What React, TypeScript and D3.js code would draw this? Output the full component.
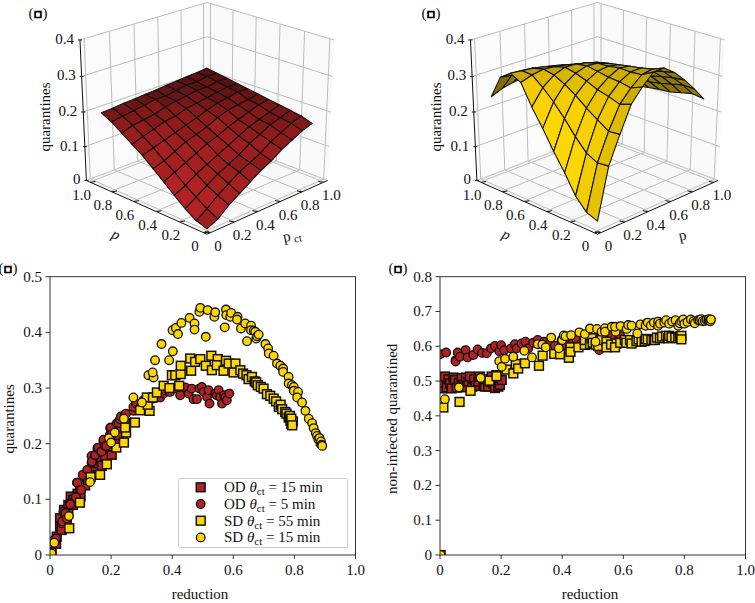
import React from "react";
import * as d3 from "d3";

const W = 755, H = 603;
const gridTicks = [0, 0.2, 0.4, 0.6, 0.8, 1.0];
const zTicks = [0, 0.1, 0.2, 0.3, 0.4];
const xTicks2D = [0, 0.2, 0.4, 0.6, 0.8, 1.0];
const yTicksC = [0, 0.1, 0.2, 0.3, 0.4, 0.5];
const yTicksD = [0, 0.1, 0.2, 0.3, 0.4, 0.5, 0.6, 0.7, 0.8];
const gridVals = [0, 0.09, 0.18, 0.27, 0.36, 0.45, 0.54, 0.63, 0.72, 0.81, 0.9];

const RED = "#b22222";
const GOLD = "#ffd700";

// rows: p, columns: p_ct
const surfaceA = [
  [0.005, 0.02, 0.045, 0.065, 0.085, 0.105, 0.12, 0.14, 0.155, 0.17, 0.18],
  [0.015, 0.035, 0.06, 0.08, 0.1, 0.115, 0.13, 0.15, 0.165, 0.18, 0.19],
  [0.035, 0.055, 0.075, 0.095, 0.11, 0.125, 0.145, 0.16, 0.175, 0.185, 0.195],
  [0.06, 0.075, 0.095, 0.11, 0.125, 0.14, 0.155, 0.17, 0.18, 0.19, 0.2],
  [0.085, 0.1, 0.115, 0.13, 0.145, 0.155, 0.17, 0.18, 0.19, 0.2, 0.205],
  [0.11, 0.12, 0.135, 0.15, 0.16, 0.17, 0.185, 0.195, 0.2, 0.205, 0.21],
  [0.135, 0.145, 0.155, 0.165, 0.175, 0.185, 0.195, 0.205, 0.21, 0.215, 0.215],
  [0.155, 0.165, 0.175, 0.185, 0.19, 0.2, 0.205, 0.21, 0.215, 0.22, 0.22],
  [0.175, 0.185, 0.19, 0.195, 0.205, 0.21, 0.215, 0.22, 0.22, 0.225, 0.225],
  [0.195, 0.2, 0.205, 0.21, 0.215, 0.215, 0.22, 0.225, 0.225, 0.23, 0.23],
  [0.21, 0.212, 0.215, 0.217, 0.22, 0.222, 0.225, 0.227, 0.23, 0.232, 0.235],
];
const surfaceB = [
  [0.027, 0.166, 0.24, 0.309, 0.344, 0.373, 0.374, 0.352, 0.322, 0.287, 0.249],
  [0.038, 0.163, 0.237, 0.298, 0.331, 0.356, 0.361, 0.345, 0.318, 0.288, 0.253],
  [0.071, 0.178, 0.257, 0.308, 0.337, 0.353, 0.354, 0.337, 0.311, 0.28, 0.245],
  [0.123, 0.211, 0.277, 0.316, 0.339, 0.354, 0.349, 0.329, 0.303, 0.272, 0.237],
  [0.17, 0.249, 0.301, 0.329, 0.345, 0.349, 0.343, 0.324, 0.297, 0.266, 0.234],
  [0.222, 0.283, 0.32, 0.34, 0.35, 0.347, 0.337, 0.318, 0.292, 0.261, 0.229],
  [0.269, 0.311, 0.335, 0.346, 0.345, 0.339, 0.33, 0.312, 0.287, 0.256, 0.223],
  [0.325, 0.335, 0.341, 0.338, 0.333, 0.325, 0.319, 0.303, 0.278, 0.248, 0.215],
  [0.34, 0.337, 0.334, 0.328, 0.321, 0.312, 0.305, 0.289, 0.268, 0.238, 0.205],
  [0.319, 0.315, 0.312, 0.306, 0.299, 0.292, 0.286, 0.271, 0.252, 0.223, 0.191],
  [0.255, 0.268, 0.275, 0.28, 0.28, 0.28, 0.275, 0.265, 0.25, 0.225, 0.195],
];

type Pt = [number, number];

const cOD15: Pt[] = [[0.005,0.006],[0.02,0.02],[0.022,0.033],[0.033,0.051],[0.033,0.066],[0.038,0.045],[0.046,0.081],[0.05,0.07],[0.055,0.06],[0.06,0.075],[0.06,0.09],[0.068,0.105],[0.075,0.09],[0.077,0.099],[0.09,0.11],[0.098,0.123],[0.1,0.105],[0.11,0.13],[0.115,0.125],[0.12,0.141],[0.125,0.135],[0.14,0.15],[0.142,0.159],[0.15,0.175],[0.153,0.165],[0.165,0.18],[0.169,0.171],[0.17,0.16],[0.18,0.177],[0.19,0.19],[0.202,0.18],[0.205,0.195],[0.21,0.2],[0.213,0.207],[0.219,0.225],[0.225,0.215],[0.235,0.23],[0.246,0.237]];
const cOD5: Pt[] = [[0.011,0.026],[0.02,0.03],[0.038,0.057],[0.04,0.06],[0.044,0.078],[0.049,0.075],[0.051,0.075],[0.055,0.066],[0.065,0.093],[0.066,0.091],[0.084,0.105],[0.085,0.104],[0.088,0.13],[0.09,0.13],[0.098,0.117],[0.102,0.117],[0.107,0.144],[0.122,0.153],[0.136,0.166],[0.136,0.178],[0.137,0.168],[0.147,0.179],[0.148,0.18],[0.155,0.192],[0.158,0.193],[0.167,0.186],[0.169,0.186],[0.175,0.204],[0.175,0.207],[0.18,0.196],[0.184,0.196],[0.196,0.216],[0.197,0.228],[0.199,0.229],[0.202,0.216],[0.219,0.237],[0.224,0.237],[0.229,0.244],[0.232,0.249],[0.245,0.252],[0.249,0.254],[0.273,0.259],[0.273,0.266],[0.282,0.272],[0.295,0.265],[0.306,0.278],[0.339,0.281],[0.361,0.283],[0.372,0.29],[0.377,0.296],[0.393,0.293],[0.41,0.3],[0.426,0.287],[0.426,0.302],[0.443,0.301],[0.454,0.29],[0.464,0.299],[0.47,0.28],[0.481,0.28],[0.489,0.299],[0.497,0.302],[0.503,0.293],[0.514,0.284],[0.519,0.296],[0.522,0.272],[0.541,0.29],[0.546,0.287],[0.552,0.296],[0.557,0.284],[0.563,0.272],[0.57,0.287],[0.574,0.283],[0.579,0.278],[0.587,0.29]];
const cSD55: Pt[] = [[0.004,0.004],[0.063,0.048],[0.098,0.094],[0.133,0.14],[0.164,0.144],[0.186,0.163],[0.217,0.193],[0.242,0.202],[0.249,0.22],[0.246,0.229],[0.278,0.238],[0.295,0.26],[0.326,0.259],[0.32,0.27],[0.317,0.283],[0.337,0.283],[0.35,0.292],[0.372,0.304],[0.391,0.3],[0.423,0.304],[0.399,0.323],[0.41,0.323],[0.428,0.325],[0.428,0.34],[0.459,0.353],[0.462,0.331],[0.475,0.347],[0.492,0.352],[0.51,0.34],[0.528,0.358],[0.53,0.332],[0.549,0.352],[0.546,0.341],[0.568,0.331],[0.576,0.349],[0.585,0.344],[0.601,0.328],[0.607,0.344],[0.623,0.332],[0.632,0.326],[0.643,0.323],[0.65,0.316],[0.661,0.32],[0.67,0.312],[0.675,0.31],[0.68,0.305],[0.69,0.302],[0.699,0.299],[0.71,0.289],[0.721,0.286],[0.732,0.281],[0.74,0.276],[0.749,0.266],[0.755,0.27],[0.76,0.262],[0.77,0.257],[0.774,0.254],[0.781,0.247],[0.785,0.25],[0.787,0.241],[0.79,0.235],[0.792,0.237],[0.795,0.24],[0.79,0.245],[0.793,0.233]];
const cSD15: Pt[] = [[0.005,0.003],[0.014,0.022],[0.062,0.07],[0.131,0.131],[0.193,0.21],[0.2,0.202],[0.212,0.22],[0.242,0.245],[0.273,0.283],[0.301,0.274],[0.322,0.323],[0.339,0.319],[0.336,0.328],[0.344,0.35],[0.365,0.379],[0.39,0.35],[0.402,0.366],[0.401,0.404],[0.412,0.408],[0.419,0.397],[0.43,0.417],[0.457,0.426],[0.473,0.416],[0.473,0.405],[0.51,0.392],[0.489,0.437],[0.492,0.444],[0.516,0.44],[0.538,0.428],[0.541,0.436],[0.572,0.409],[0.576,0.441],[0.577,0.431],[0.59,0.428],[0.593,0.435],[0.614,0.428],[0.612,0.423],[0.625,0.407],[0.639,0.416],[0.645,0.384],[0.658,0.412],[0.658,0.404],[0.667,0.403],[0.672,0.401],[0.675,0.389],[0.678,0.393],[0.683,0.396],[0.705,0.379],[0.714,0.371],[0.716,0.362],[0.732,0.358],[0.743,0.344],[0.754,0.34],[0.763,0.335],[0.763,0.329],[0.781,0.32],[0.781,0.308],[0.792,0.305],[0.798,0.302],[0.798,0.295],[0.812,0.293],[0.809,0.283],[0.825,0.274],[0.836,0.259],[0.847,0.245],[0.858,0.237],[0.863,0.228],[0.87,0.219],[0.874,0.214],[0.878,0.208],[0.882,0.21],[0.885,0.2],[0.887,0.204],[0.889,0.198],[0.891,0.196]];

const dOD15: Pt[] = [[0.002,0.49],[0.005,0.505],[0.008,0.479],[0.012,0.495],[0.016,0.513],[0.022,0.482],[0.028,0.505],[0.033,0.493],[0.038,0.479],[0.044,0.51],[0.049,0.503],[0.055,0.481],[0.062,0.495],[0.071,0.508],[0.076,0.489],[0.085,0.51],[0.088,0.482],[0.093,0.498],[0.098,0.513],[0.106,0.484],[0.112,0.505],[0.117,0.486],[0.125,0.498],[0.131,0.513],[0.142,0.491],[0.147,0.484],[0.15,0.505],[0.158,0.484],[0.165,0.498],[0.169,0.513],[0.175,0.493],[0.18,0.48],[0.185,0.517],[0.191,0.484],[0.196,0.489],[0.202,0.503]];
const dOD5: Pt[] = [[0.0,0.577],[0.02,0.582],[0.051,0.56],[0.051,0.556],[0.058,0.582],[0.065,0.57],[0.084,0.589],[0.09,0.568],[0.109,0.575],[0.123,0.591],[0.138,0.581],[0.153,0.58],[0.167,0.594],[0.18,0.601],[0.194,0.586],[0.2,0.603],[0.21,0.589],[0.232,0.594],[0.245,0.606],[0.251,0.594],[0.267,0.608],[0.28,0.613],[0.289,0.594],[0.305,0.61],[0.32,0.618],[0.341,0.613],[0.36,0.608],[0.376,0.601],[0.398,0.601],[0.398,0.618],[0.43,0.62],[0.431,0.606],[0.447,0.618],[0.463,0.608],[0.47,0.63],[0.49,0.62],[0.496,0.623],[0.51,0.625],[0.52,0.63],[0.521,0.589],[0.534,0.632],[0.55,0.625],[0.562,0.632],[0.59,0.63]];
const dSD55: Pt[] = [[0.002,0.0],[0.011,0.424],[0.064,0.44],[0.1,0.472],[0.162,0.501],[0.185,0.514],[0.218,0.533],[0.24,0.522],[0.248,0.549],[0.256,0.536],[0.278,0.551],[0.324,0.544],[0.336,0.573],[0.374,0.578],[0.393,0.577],[0.422,0.567],[0.427,0.597],[0.427,0.584],[0.453,0.597],[0.474,0.604],[0.474,0.618],[0.491,0.606],[0.496,0.623],[0.5,0.61],[0.51,0.605],[0.518,0.601],[0.529,0.618],[0.545,0.613],[0.545,0.597],[0.56,0.605],[0.578,0.608],[0.573,0.597],[0.59,0.61],[0.605,0.618],[0.61,0.61],[0.622,0.618],[0.627,0.608],[0.643,0.615],[0.65,0.62],[0.66,0.613],[0.67,0.615],[0.673,0.621],[0.68,0.62],[0.692,0.618],[0.7,0.62],[0.703,0.618],[0.71,0.625],[0.72,0.623],[0.727,0.628],[0.74,0.63],[0.747,0.623],[0.75,0.63],[0.758,0.626],[0.77,0.625],[0.78,0.623],[0.785,0.628],[0.787,0.625],[0.79,0.63],[0.79,0.62]];
const dSD15: Pt[] = [[0.002,0.0],[0.016,0.448],[0.062,0.482],[0.133,0.509],[0.194,0.557],[0.202,0.541],[0.213,0.564],[0.24,0.57],[0.276,0.587],[0.301,0.568],[0.32,0.606],[0.335,0.605],[0.346,0.597],[0.364,0.625],[0.389,0.594],[0.4,0.618],[0.405,0.631],[0.411,0.629],[0.429,0.632],[0.456,0.64],[0.474,0.635],[0.491,0.651],[0.509,0.613],[0.514,0.65],[0.529,0.642],[0.54,0.652],[0.54,0.642],[0.562,0.656],[0.575,0.642],[0.573,0.656],[0.591,0.658],[0.611,0.65],[0.616,0.661],[0.627,0.659],[0.646,0.637],[0.656,0.663],[0.676,0.666],[0.673,0.659],[0.68,0.668],[0.69,0.66],[0.7,0.668],[0.714,0.671],[0.714,0.659],[0.72,0.665],[0.734,0.668],[0.74,0.675],[0.75,0.665],[0.76,0.671],[0.771,0.675],[0.78,0.659],[0.785,0.666],[0.79,0.672],[0.796,0.677],[0.8,0.665],[0.81,0.67],[0.821,0.677],[0.83,0.672],[0.834,0.666],[0.845,0.675],[0.85,0.675],[0.855,0.678],[0.86,0.672],[0.867,0.673],[0.872,0.676],[0.878,0.674],[0.88,0.678],[0.883,0.675],[0.885,0.672],[0.887,0.677]];

const legendLabels = [
  { src: "OD", val: "15" },
  { src: "OD", val: "5" },
  { src: "SD", val: "55" },
  { src: "SD", val: "15" },
];

const FONT = "'Liberation Serif', 'Times New Roman', serif";
const INK = "#111";
const BOX = "#333";

// ---- 3D camera ----
const ELEV = (24.5 * Math.PI) / 180;
const DIST = 8;
const SX = 1400, SY = 1235;
const dataU = d3.scaleLinear().domain([0, 1]).range([0.03, 0.97]);
const dataW = d3.scaleLinear().domain([0, 0.4]).range([0, 1]);

function camera(cx: number, cy: number) {
  const c = Math.cos(ELEV), s = Math.sin(ELEV), r = Math.SQRT1_2;
  return (u: number, v: number, w: number) => {
    const a = u - 0.5, b = v - 0.5, e = w - 0.5;
    const sx = (a - b) * r;
    const sy = (a + b) * r * s + e * c;
    const depth = DIST + (a + b) * r * c - e * s;
    return { x: cx + (SX * sx) / depth, y: cy - (SY * sy) / depth, depth };
  };
}

function Tag({ x, y }: any) {
  return (
    <text x={x} y={y} textAnchor="middle" fontSize={15}>
      (<tspan fontFamily="'DejaVu Sans'" fontWeight="bold" fontSize={13} stroke="#000" strokeWidth={0.9}>▫</tspan>)
    </text>
  );
}

function Surface3D({ cx, cy, z, color, pLabel, ctSub, tagX }: any) {
  const cam = camera(cx, cy);
  const P = (pct: number, p: number, q: number) => cam(dataU(pct), dataU(p), dataW(q));
  const L = (a: any, b: any) => `M${a.x},${a.y}L${b.x},${b.y}`;
  const n = gridVals.length;
  const faces: any[] = [];
  for (let i = 0; i < n - 1; i++) {
    for (let j = 0; j < n - 1; j++) {
      const vs = [
        [gridVals[j], gridVals[i], z[i][j]],
        [gridVals[j + 1], gridVals[i], z[i][j + 1]],
        [gridVals[j + 1], gridVals[i + 1], z[i + 1][j + 1]],
        [gridVals[j], gridVals[i + 1], z[i + 1][j]],
      ];
      const d1 = [vs[2][0] - vs[0][0], vs[2][1] - vs[0][1], vs[2][2] - vs[0][2]];
      const d2 = [vs[3][0] - vs[1][0], vs[3][1] - vs[1][1], vs[3][2] - vs[1][2]];
      const nn = [
        d1[1] * d2[2] - d1[2] * d2[1],
        d1[2] * d2[0] - d1[0] * d2[2],
        d1[0] * d2[1] - d1[1] * d2[0],
      ];
      const len = Math.hypot(nn[0], nn[1], nn[2]) || 1;
      const sgn = nn[2] < 0 ? -1 : 1;
      const shade = (sgn * (-nn[0] - nn[1] + nn[2])) / (len * Math.sqrt(3));
      const pts = vs.map((q) => P(q[0], q[1], q[2]));
      faces.push({ pts, shade, depth: d3.mean(pts, (q: any) => q.depth) });
    }
  }
  const sh = d3.scaleLinear().domain(d3.extent(faces, (f) => f.shade) as [number, number]).range([0.5, 1]);
  const base = d3.rgb(color);
  faces.forEach((f) => {
    const k = sh(f.shade);
    f.fill = d3.rgb(base.r * k, base.g * k, base.b * k).formatRgb();
  });
  faces.sort((a, b) => b.depth - a.depth);
  const linePath = d3.line<any>().x((d) => d.x).y((d) => d.y);
  const poly = (arr: any[]) => linePath(arr) + "Z";
  const grid = "#bdbdbd";
  const zz = (q: number) => dataW(q);
  return (
    <g fontFamily={FONT} fontSize={15} fill={INK}>
      <path d={poly([cam(0, 0, 0), cam(1, 0, 0), cam(1, 1, 0), cam(0, 1, 0)])} fill="#f8f8f8" />
      <path d={poly([cam(0, 1, 0), cam(1, 1, 0), cam(1, 1, 1), cam(0, 1, 1)])} fill="#fbfbfb" />
      <path d={poly([cam(1, 0, 0), cam(1, 1, 0), cam(1, 1, 1), cam(1, 0, 1)])} fill="#f9f9f9" />
      {gridTicks.map((t) => (
        <g key={t} stroke={grid} strokeWidth={1} fill="none">
          <path d={L(cam(dataU(t), 0, 0), cam(dataU(t), 1, 0))} />
          <path d={L(cam(0, dataU(t), 0), cam(1, dataU(t), 0))} />
          <path d={L(cam(dataU(t), 1, 0), cam(dataU(t), 1, 1))} />
          <path d={L(cam(1, dataU(t), 0), cam(1, dataU(t), 1))} />
        </g>
      ))}
      {zTicks.map((t) => (
        <g key={t} stroke={grid} strokeWidth={1} fill="none">
          <path d={L(cam(0, 1, zz(t)), cam(1, 1, zz(t)))} />
          <path d={L(cam(1, 0, zz(t)), cam(1, 1, zz(t)))} />
        </g>
      ))}
      <path d={L(cam(0, 1, 0), cam(0, 1, 1))} stroke={INK} strokeWidth={1} />
      <path d={L(cam(0, 0, 0), cam(0, 1, 0))} stroke={INK} strokeWidth={1} />
      <path d={L(cam(0, 0, 0), cam(1, 0, 0))} stroke={INK} strokeWidth={1} />
      {faces.map((f, i) => (
        <path key={i} d={poly(f.pts)} fill={f.fill} stroke="#111" strokeWidth={1.1} strokeLinejoin="round" />
      ))}
      {zTicks.map((t) => {
        const a = cam(0, 1, zz(t));
        return (
          <g key={t}>
            <path d={`M${a.x - 2},${a.y}L${a.x + 2},${a.y}`} stroke={INK} strokeWidth={1} />
            <text x={a.x - 6} y={a.y + 4} textAnchor="end" stroke="none">{t === 0 ? "0" : t.toFixed(1)}</text>
          </g>
        );
      })}
      {gridTicks.map((t) => {
        const a = P(0, t, 0), b = P(t, 0, 0);
        const la = t === 0 ? "0" : t.toFixed(1);
        return (
          <g key={t}>
            <path d={`M${a.x + 2},${a.y + 1}L${a.x - 3},${a.y + 2}`} stroke={INK} strokeWidth={1} />
            <path d={`M${b.x - 2},${b.y + 1}L${b.x + 3},${b.y + 2}`} stroke={INK} strokeWidth={1} />
            <text x={a.x - 12} y={a.y + 20} textAnchor="middle" stroke="none">{la}</text>
            <text x={b.x + 11} y={b.y + 20} textAnchor="middle" stroke="none">{la}</text>
          </g>
        );
      })}
      <text transform={`translate(${cx - 157},${cy + 5}) rotate(-90)`} textAnchor="middle">quarantines</text>
      <text transform={`translate(${cx - 93},${cy + 127}) rotate(23)`} textAnchor="middle" fontStyle="italic">p</text>
      <text transform={`translate(${cx + 86},${cy + 128}) rotate(-12)`} textAnchor="middle">
        {pLabel}
        {ctSub ? <tspan fontSize={11} dy={3}> ct</tspan> : null}
      </text>
      <Tag x={tagX} y={18} />
    </g>
  );
}

function Scatter({ x0, yMax, yTicks, series, ylabel, ylx, legend, tagX, labelRight }: any) {
  const x = d3.scaleLinear().domain([0, 1]).range([x0, x0 + 305.5]);
  const y = d3.scaleLinear().domain([0, yMax]).range([555, 276.7]);
  const id = `clip${x0}`;
  const r = 4.3, hs = 4.4;
  return (
    <g fontFamily={FONT} fontSize={15} fill={INK}>
      <clipPath id={id}>
        <rect x={x(0)} y={y(yMax)} width={x(1) - x(0)} height={y(0) - y(yMax)} />
      </clipPath>
      <g clipPath={`url(#${id})`}>
        {series.map((s: any, k: number) =>
          s.pts.map((d: Pt, i: number) =>
            s.square ? (
              <rect key={`${k}-${i}`} x={x(d[0]) - hs} y={y(d[1]) - hs} width={2 * hs} height={2 * hs} fill={s.color} stroke="#111" strokeWidth={1.5} />
            ) : (
              <circle key={`${k}-${i}`} cx={x(d[0])} cy={y(d[1])} r={r} fill={s.color} stroke="#111" strokeWidth={1.3} />
            )
          )
        )}
      </g>
      <rect x={x(0)} y={y(yMax)} width={x(1) - x(0)} height={y(0) - y(yMax)} fill="none" stroke={BOX} strokeWidth={1} />
      {xTicks2D.map((t) => (
        <g key={t}>
          <path d={`M${x(t)},555L${x(t)},559`} stroke={BOX} />
          <text x={x(t)} y={575} textAnchor="middle">{t === 0 ? "0" : t.toFixed(1)}</text>
        </g>
      ))}
      {yTicks.map((t: number) => (
        <g key={t}>
          <path d={`M${x0},${y(t)}L${x0 - 4.5},${y(t)}`} stroke={BOX} />
          <text x={labelRight} y={y(t) + 5} textAnchor="end">{t === 0 ? "0" : t.toFixed(1)}</text>
        </g>
      ))}
      <text x={x0 + 150} y={599} textAnchor="middle">reduction</text>
      <text transform={`translate(${ylx},${y(yMax / 2) + 3}) rotate(-90)`} textAnchor="middle">{ylabel}</text>
      <Tag x={tagX} y={273} />
      {legend ? (
        <g>
          <rect x={178.5} y={478.5} width={169} height={69} rx={2} fill="#fff" fillOpacity={0.85} stroke="#ccc" />
          {legendLabels.map((l, i) => {
            const yy = 487.3 + i * 16.7;
            const s = series[i];
            return (
              <g key={i}>
                {s.square ? (
                  <rect x={200.7 - hs} y={yy - hs} width={2 * hs} height={2 * hs} fill={s.color} stroke="#111" strokeWidth={1.5} />
                ) : (
                  <circle cx={200.7} cy={yy} r={r} fill={s.color} stroke="#111" strokeWidth={1.3} />
                )}
                <text x={224} y={yy + 5}>
                  {l.src} <tspan fontStyle="italic">θ</tspan>
                  <tspan fontSize={11} dy={3}>ct</tspan>
                  <tspan dy={-3}> = {l.val} min</tspan>
                </text>
              </g>
            );
          })}
        </g>
      ) : null}
    </g>
  );
}

export default function App() {
  const mk = (a: Pt[], b: Pt[], c: Pt[], d: Pt[]) => [
    { pts: a, color: RED, square: true },
    { pts: b, color: RED, square: false },
    { pts: c, color: GOLD, square: true },
    { pts: d, color: GOLD, square: false },
  ];
  return (
    <svg width={W} height={H} style={{ position: "absolute", left: 0, top: 0, background: "#fff" }}>
      <Surface3D cx={207} cy={112} z={surfaceA} color={RED} pLabel="p" ctSub tagX={38} />
      <Surface3D cx={597.5} cy={112} z={surfaceB} color={GOLD} pLabel="p" tagX={431} />
      <Scatter x0={50} yMax={0.5} yTicks={yTicksC} series={mk(cOD15, cOD5, cSD55, cSD15)} ylabel="quarantines" ylx={14} legend tagX={8} labelRight={42} />
      <Scatter x0={440} yMax={0.8} yTicks={yTicksD} series={mk(dOD15, dOD5, dSD55, dSD15)} ylabel="non-infected quarantined" ylx={397} tagX={398} labelRight={432} />
    </svg>
  );
}
